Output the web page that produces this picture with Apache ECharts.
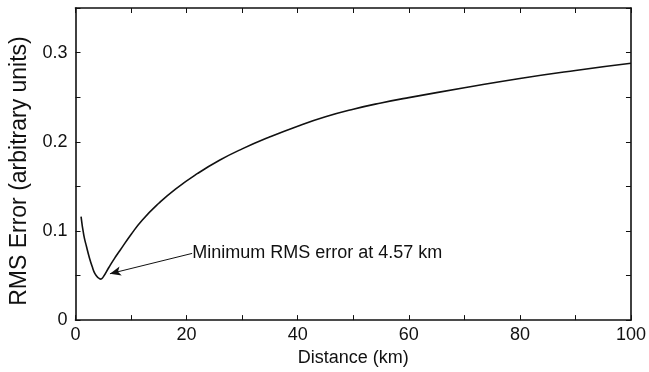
<!DOCTYPE html>
<html>
<head>
<meta charset="utf-8">
<script src="https://cdn.jsdelivr.net/npm/echarts@6/dist/echarts.min.js"></script>
<style>
  html, body { margin: 0; padding: 0; background: #fff; }
  #chart { width: 649px; height: 372px; }
</style>
</head>
<body>
<div id="chart"></div>
<script>
// distance (km) and rms error
var distance = [1, 1.5, 2, 2.5, 3, 3.5, 4, 4.57, 5, 6, 7, 8, 10, 12, 15, 18, 22, 26, 30, 35, 40, 45, 50, 55, 60, 70, 80, 90, 100];
var rmsError = [0.116, 0.095, 0.082, 0.070, 0.060, 0.052, 0.048, 0.046, 0.0485, 0.059, 0.069, 0.078, 0.096, 0.112, 0.131, 0.147, 0.1645, 0.1795, 0.192, 0.2055, 0.2175, 0.228, 0.2365, 0.2435, 0.2495, 0.2605, 0.271, 0.280, 0.288];

var xTickLabels = [0, 20, 40, 60, 80, 100];
var yTickLabels = [0, 0.1, 0.2, 0.3];

var noteText = 'Minimum RMS error at 4.57 km';
var noteFrom = [21.0, 0.0748];
var noteTo = [6.2, 0.052];

var font = 'Liberation Sans, Arial, Helvetica, sans-serif';

function showLabel(list) {
  return function(v) {
    for (var i = 0; i < list.length; i++) {
      if (Math.abs(v - list[i]) < 1e-6) return String(list[i]);
    }
    return '';
  };
}

var pts = [];
for (var i = 0; i < distance.length; i++) pts.push([distance[i], rmsError[i]]);

var axisLine = { show: true, onZero: false, lineStyle: { color: '#111', width: 1.6 } };
var tick = { show: true, inside: true, length: 5, lineStyle: { color: '#111', width: 1 } };

var chart = echarts.init(document.getElementById('chart'));
chart.setOption({
  animation: false,
  backgroundColor: '#fff',
  grid: { left: 75.5, right: 17, top: 8, bottom: 48 },
  xAxis: [{
    type: 'value', min: 0, max: 100, interval: 10,
    name: 'Distance (km)', nameLocation: 'middle', nameGap: 24,
    nameTextStyle: { fontFamily: font, fontSize: 18, color: '#111' },
    axisLine: axisLine, axisTick: tick, splitLine: { show: false },
    axisLabel: { formatter: showLabel(xTickLabels), fontFamily: font, fontSize: 18, color: '#111', margin: 6 }
  }, {
    type: 'value', min: 0, max: 100, interval: 10, position: 'top',
    axisLine: axisLine, axisTick: tick, splitLine: { show: false }, axisLabel: { show: false }
  }],
  yAxis: [{
    type: 'value', min: 0, max: 0.35, interval: 0.05,
    name: 'RMS Error (arbitrary units)', nameLocation: 'middle', nameGap: 44,
    nameTextStyle: { fontFamily: font, fontSize: 23, color: '#111', padding: [0, 14, 0, 0] },
    axisLine: axisLine, axisTick: tick, splitLine: { show: false },
    axisLabel: { formatter: showLabel(yTickLabels), fontFamily: font, fontSize: 18, color: '#111', margin: 8 }
  }, {
    type: 'value', min: 0, max: 0.35, interval: 0.05, position: 'right',
    axisLine: axisLine, axisTick: tick, splitLine: { show: false }, axisLabel: { show: false }
  }],
  series: [{
    type: 'line',
    data: pts,
    smooth: 0.5,
    showSymbol: false,
    lineStyle: { color: '#111', width: 1.6 },
    markLine: {
      silent: true,
      symbol: ['none', 'arrow'],
      symbolSize: [7, 11],
      lineStyle: { color: '#111', width: 1, type: 'solid' },
      label: { show: false },
      data: [[{ coord: noteFrom }, { coord: noteTo }]]
    },
    markPoint: {
      silent: true,
      symbol: 'circle', symbolSize: 0,
      label: {
        show: true, position: 'right', distance: 0,
        formatter: noteText,
        fontFamily: font, fontSize: 18, color: '#111'
      },
      data: [{ coord: noteFrom }]
    }
  }]
});
</script>
</body>
</html>
